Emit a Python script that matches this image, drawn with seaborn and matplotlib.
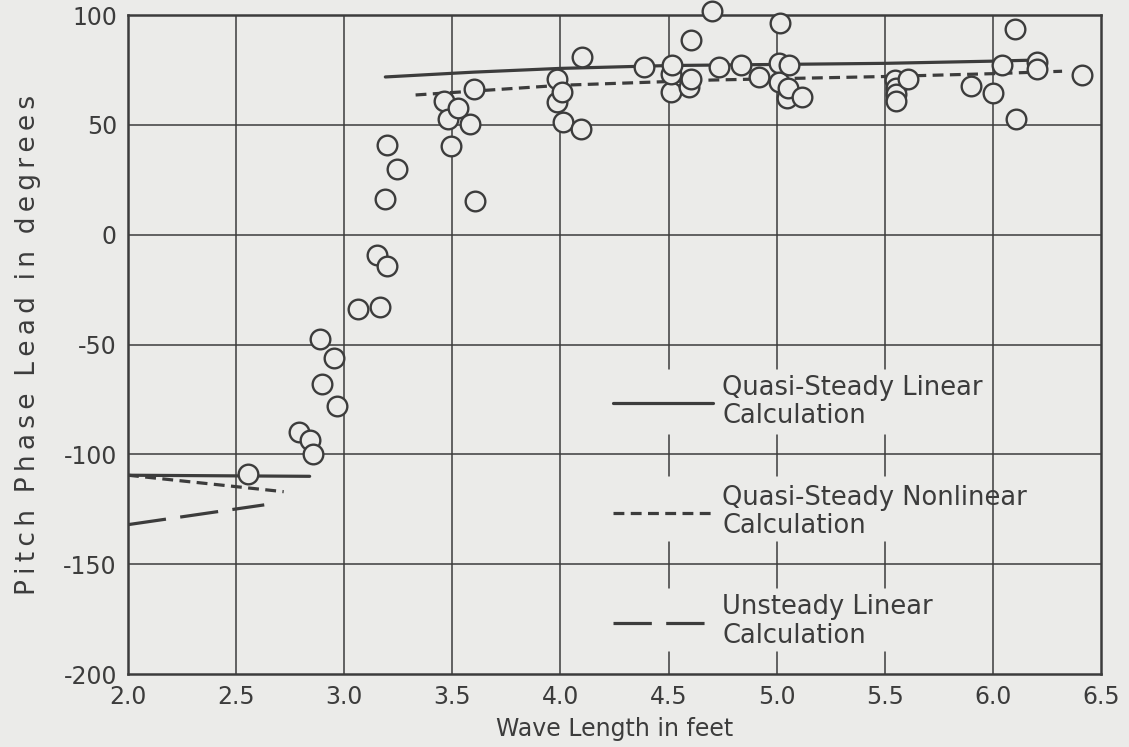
import numpy as np
import pandas as pd
import matplotlib
matplotlib.use("Agg")
import matplotlib.pyplot as plt
import seaborn as sns

wave_length = [
    2.557, 2.789, 2.842, 2.854, 2.887, 2.897, 2.954, 2.967,
    3.062, 3.152, 3.166, 3.190, 3.196, 3.200, 3.243,
    3.463, 3.482, 3.494, 3.528, 3.582, 3.600, 3.605,
    3.983, 3.986, 4.009, 4.013, 4.094, 4.101,
    4.387, 4.512, 4.512, 4.515, 4.595, 4.603, 4.603, 4.700,
    4.735, 4.834, 4.916, 5.013, 5.013, 5.016, 5.047, 5.054, 5.055, 5.116,
    5.548, 5.550, 5.550, 5.550, 5.606,
    5.898, 6.002, 6.041, 6.100, 6.107, 6.203, 6.203, 6.411,
]
phase_lead = [
    -108.8, -89.8, -93.4, -99.7, -47.6, -67.8, -56.0, -78.0,
    -34.0, -9.2, -32.9, 16.1, 40.8, -14.1, 29.9,
    60.9, 52.5, 40.5, 57.8, 50.4, 66.2, 15.3,
    70.9, 60.5, 65.1, 51.4, 48.1, 81.0,
    76.5, 64.8, 73.0, 77.2, 67.4, 70.7, 88.5, 102.0,
    76.2, 77.2, 71.9, 78.3, 69.6, 96.5, 62.1, 66.6, 77.2, 62.5,
    70.4, 66.6, 63.9, 61.0, 70.7,
    67.8, 64.6, 77.2, 93.5, 52.5, 78.7, 75.3, 72.7,
]

# calculated curves
qs_lin_x1 = [2.0, 2.84]
qs_lin_y1 = [-109.5, -110.0]
qs_lin_x2 = [3.19, 3.6, 4.0, 4.5, 5.0, 5.5, 6.0, 6.2]
qs_lin_y2 = [71.8, 74.0, 75.7, 77.0, 77.5, 78.0, 79.0, 79.5]

qs_nl_x1 = [2.0, 2.72]
qs_nl_y1 = [-109.5, -117.0]
qs_nl_x2 = [3.33, 4.0, 4.7, 5.1, 5.5, 6.0, 6.32]
qs_nl_y2 = [63.6, 68.0, 70.4, 71.2, 72.0, 73.3, 74.4]

us_lin_x = [2.0, 2.63]
us_lin_y = [-132.0, -123.0]

labels = ["Quasi-Steady Linear\nCalculation",
          "Quasi-Steady Nonlinear\nCalculation",
          "Unsteady Linear\nCalculation"]

x_ticks = [2.0, 2.5, 3.0, 3.5, 4.0, 4.5, 5.0, 5.5, 6.0, 6.5]
y_ticks = [-200, -150, -100, -50, 0, 50, 100]

paper = "#ebebe9"
ink = "#3c3c3c"


def spaced(text):
    # the lettering on the original is widely spaced
    return "  ".join("\u2009".join(word) for word in text.split(" "))


sns.set_style("white")
plt.rcParams["font.family"] = ["DejaVu Sans"]
plt.rcParams["axes.unicode_minus"] = False

fig = plt.figure(figsize=(11.29, 7.47), dpi=100, facecolor=paper)
ax = fig.add_axes([0.1134, 0.0977, 0.8618, 0.8822], facecolor=paper)

ax.set_xlim(2.0, 6.5)
ax.set_ylim(-200, 100)

# grid: horizontal lines run through, verticals broken behind the legend
for y in [-150, -100, -50, 0, 50]:
    ax.axhline(y, color=ink, lw=1.1, zorder=1)
for x in [2.5, 3.0, 3.5, 4.0, 6.0]:
    ax.axvline(x, color=ink, lw=1.1, zorder=1)
for x in [4.5, 5.0, 5.5]:
    for y0, y1 in [(100, -61), (-91, -110), (-140, -161), (-190, -200)]:
        ax.plot([x, x], [y0, y1], color=ink, lw=1.1, zorder=1)

lw = 2.3
h1, = ax.plot(qs_lin_x2, qs_lin_y2, color=ink, lw=lw, zorder=2)
ax.plot(qs_lin_x1, qs_lin_y1, color=ink, lw=lw, zorder=2)
h2, = ax.plot(qs_nl_x2, qs_nl_y2, color=ink, lw=lw, dashes=(3.4, 2.0), zorder=2)
ax.plot(qs_nl_x1, qs_nl_y1, color=ink, lw=lw, dashes=(3.4, 2.0), zorder=2)
h3, = ax.plot(us_lin_x, us_lin_y, color=ink, lw=lw, dashes=(12, 4.5), zorder=2)

sns.scatterplot(x=wave_length, y=phase_lead, ax=ax, s=200, marker="o",
                facecolor=paper, edgecolor=ink, linewidth=1.7, zorder=3,
                clip_on=False, legend=False)

leg = ax.legend([h1, h2, h3], labels, loc="upper left",
                bbox_to_anchor=(0.4985, 0.4537), frameon=False,
                fontsize=18.5, handlelength=3.9, handletextpad=0.35,
                labelspacing=2.15, borderpad=0, borderaxespad=0)
for t in leg.get_texts():
    t.set_color(ink)
    t.set_linespacing(1.12)

for s in ax.spines.values():
    s.set_color(ink)
    s.set_linewidth(1.8)
    s.set_visible(True)

ax.set_xticks(x_ticks)
ax.set_xticklabels([f"{v:.1f}" for v in x_ticks])
ax.set_yticks(y_ticks)
ax.set_yticklabels([str(v) for v in y_ticks])
ax.tick_params(length=0, labelsize=17, labelcolor=ink, pad=8)

ax.set_xlabel("Wave Length in feet", fontsize=17, color=ink, labelpad=6)
ax.set_ylabel(spaced("Pitch Phase Lead in degrees"), fontsize=19, color=ink,
              labelpad=16)

fig.savefig("out.png", dpi=100, facecolor=paper)
